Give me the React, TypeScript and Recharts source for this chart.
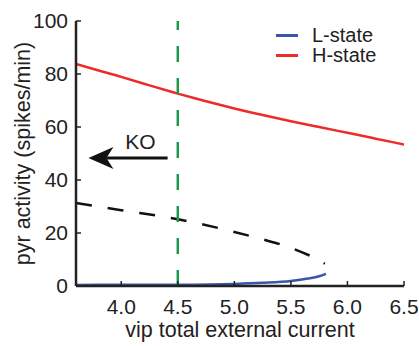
import React from "react";
import {
  LineChart,
  Line,
  XAxis,
  YAxis,
  ReferenceLine,
  ReferenceDot,
  Legend,
} from "recharts";

const FONT = "'Liberation Sans', Arial, sans-serif";

// H-state (stable high)
const hX = [3.6, 3.8, 4.0, 4.25, 4.5, 4.75, 5.0, 5.25, 5.5, 5.75, 6.0, 6.25, 6.5];
const hY = [83.8, 81.3, 78.9, 75.7, 72.6, 69.7, 67.0, 64.5, 62.2, 60.0, 57.8, 55.6, 53.4];

// unstable branch (dashed)
const uX = [3.6, 4.0, 4.5, 5.0, 5.25, 5.5, 5.66, 5.75, 5.8];
const uY = [31.3, 28.6, 25.2, 20.4, 17.6, 14.4, 11.6, 9.8, 8.4];

// L-state (stable low)
const lX = [3.6, 4.0, 4.5, 5.0, 5.25, 5.5, 5.65, 5.75, 5.81];
const lY = [0.4, 0.45, 0.5, 0.8, 1.2, 1.9, 2.8, 3.7, 4.6];

const xTicks = [4.0, 4.5, 5.0, 5.5, 6.0, 6.5];
const yTicks = [0, 20, 40, 60, 80, 100];

const legendItems = [
  { label: "L-state", color: "#3a56a8" },
  { label: "H-state", color: "#ee2a2a" },
];

const toRows = (xs: number[], ys: number[]) => xs.map((x, i) => ({ x, y: ys[i] }));

const hData = toRows(hX, hY);
const uData = toRows(uX, uY);
const lData = toRows(lX, lY);

// KO arrow, in data units
const koArrow = [
  { x: 4.41, y: 48.3 },
  { x: 3.71, y: 48.3 },
];
const koLabel = { x: 4.17, y: 54.5 };

const ArrowShape = (props: any) => {
  const { x1, y1, x2, y2 } = props;
  const len = 25;
  const half = 11;
  return (
    <g>
      <line x1={x1} y1={y1} x2={x2 + 18} y2={y2} stroke="#111" strokeWidth={3} />
      <path
        d={`M${x2},${y2} L${x2 + len},${y2 - half} L${x2 + len - 7},${y2} L${x2 + len},${y2 + half} Z`}
        fill="#111"
      />
    </g>
  );
};

export default function App() {
  return (
    <div style={{ position: "absolute", left: 0, top: 0, fontFamily: FONT }}>
      <LineChart
        width={419}
        height={346}
        margin={{ top: 21, right: 15, left: 0, bottom: 0 }}
      >
        <XAxis
          type="number"
          dataKey="x"
          domain={[3.6, 6.5]}
          ticks={xTicks}
          allowDataOverflow
          tickFormatter={(v: number) => v.toFixed(1)}
          height={60}
          tickSize={-5}
          tickMargin={18}
          tick={{ fill: "#222", fontSize: 21, fontFamily: FONT }}
          axisLine={{ stroke: "#222", strokeWidth: 2.5 }}
          tickLine={{ stroke: "#222", strokeWidth: 1.5 }}
          label={{
            value: "vip total external current",
            position: "insideBottom",
            offset: 9,
            fill: "#222",
            fontSize: 21.5,
            fontFamily: FONT,
          }}
        />
        <YAxis
          type="number"
          domain={[0, 100]}
          ticks={yTicks}
          width={76}
          tickSize={-5}
          tickMargin={13}
          tick={{ fill: "#222", fontSize: 21, fontFamily: FONT }}
          axisLine={{ stroke: "#222", strokeWidth: 2.5 }}
          tickLine={{ stroke: "#222", strokeWidth: 1.5 }}
          label={{
            value: "pyr activity (spikes/min)",
            angle: -90,
            position: "center",
            dx: -16,
            fill: "#222",
            fontSize: 21.5,
            fontFamily: FONT,
          }}
        />
        <Legend
          layout="vertical"
          align="center"
          verticalAlign="middle"
          wrapperStyle={{ top: 25, left: 276, width: 140 }}
          content={() => (
            <div style={{ fontFamily: FONT, fontSize: 20, color: "#222" }}>
              {legendItems.map((it) => (
                <div
                  key={it.label}
                  style={{ display: "flex", alignItems: "center", height: 20 }}
                >
                  <span
                    style={{
                      display: "inline-block",
                      width: 22,
                      height: 3,
                      background: it.color,
                      marginRight: 14,
                    }}
                  />
                  {it.label}
                </div>
              ))}
            </div>
          )}
        />
        <Line
          data={hData}
          dataKey="y"
          type="natural"
          stroke="#ee2a2a"
          strokeWidth={2.5}
          dot={false}
          isAnimationActive={false}
        />
        <Line
          data={uData}
          dataKey="y"
          type="monotone"
          stroke="#111"
          strokeWidth={2.5}
          strokeDasharray="16 16"
          dot={false}
          isAnimationActive={false}
        />
        <Line
          data={lData}
          dataKey="y"
          type="monotone"
          stroke="#3a56a8"
          strokeWidth={2.5}
          dot={false}
          isAnimationActive={false}
        />
        <ReferenceLine
          x={4.5}
          stroke="#1b9a4a"
          strokeWidth={2.5}
          strokeDasharray="16 16"
        />
        <ReferenceLine segment={koArrow} shape={ArrowShape} />
        <ReferenceDot
          x={koLabel.x}
          y={koLabel.y}
          r={0}
          fill="none"
          stroke="none"
          label={{ value: "KO", position: "center", fill: "#222", fontSize: 21, fontFamily: FONT }}
        />
      </LineChart>
    </div>
  );
}
